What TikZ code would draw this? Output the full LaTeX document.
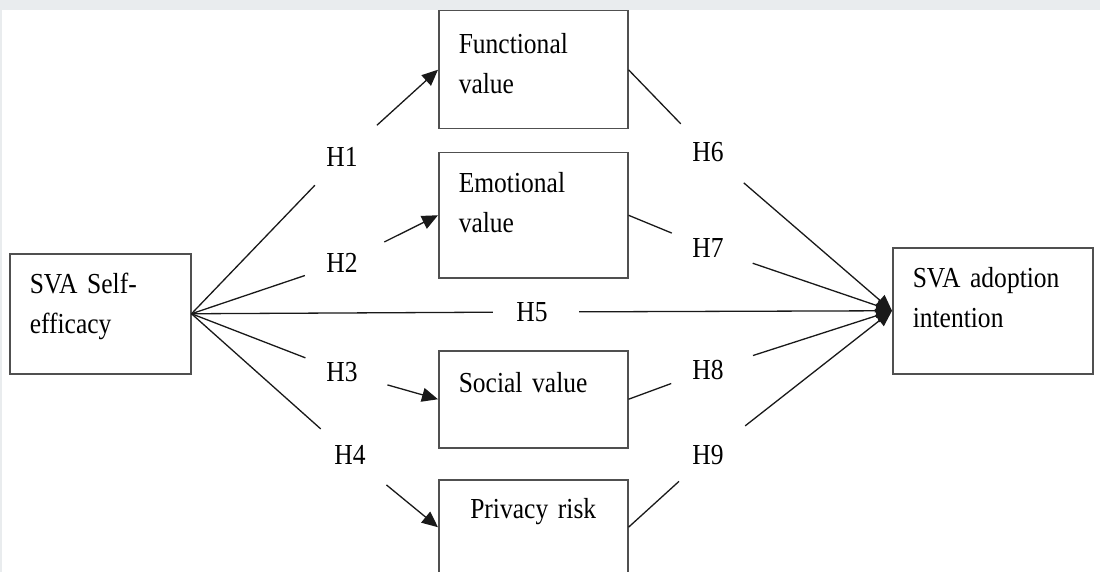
\documentclass[tikz,border=0pt]{standalone}
\usepackage{fontspec}
\setmainfont{Liberation Serif}[FakeStretch=0.88, WordSpace=0.75]
\usetikzlibrary{arrows.meta}
\definecolor{bandgray}{RGB}{233,236,238}
\definecolor{boxgray}{RGB}{80,80,80}

\begin{document}
\begin{tikzpicture}[x=1pt, y=-1pt,
  font=\fontsize{29}{40}\selectfont,
  varbox/.style={draw=boxgray, line width=1.5pt, anchor=north west, align=left,
    inner xsep=20pt, inner ysep=0pt, text height=19pt},
  hyp/.style={circle, inner sep=0pt, minimum size=78pt},
  link/.style={draw=black!90, line width=1.3pt},
  tip/.style={link, -{Triangle[length=16pt,width=14pt]}, shorten <=8pt}]
\useasboundingbox (0,0) rectangle (1100,572);
\fill[white] (0,0) rectangle (1100,572);
% scan frame
\fill[bandgray] (0,0) rectangle (1100,10);
\fill[bandgray] (0,0) rectangle (2,572);

% constructs
\node[varbox, text width=141pt, minimum height=120pt, text depth=59pt] (self) at (9,253) {SVA Self-\\efficacy};
\node[varbox, text width=149pt, minimum height=118pt, text depth=51pt] (func) at (438,10) {Functional\\value};
\node[varbox, text width=149pt, minimum height=125pt, text depth=64pt] (emo) at (438,152) {Emotional\\value};
\node[varbox, text width=149pt, minimum height=97pt, text depth=32pt] (soc) at (438,350) {Social value};
\node[varbox, text width=149pt, align=center, minimum height=95pt, text depth=36pt] (priv) at (438,479) {Privacy risk};
\node[varbox, text width=160pt, minimum height=126pt, text depth=65pt] (adopt) at (892,247) {SVA adoption\\intention};

% hypotheses
\foreach \n/\x/\y in {1/342/157, 2/342/263, 3/342/372, 4/350/455, 5/532/312,
                      6/708/152, 7/708/248, 8/708/370, 9/708/455}
  \node[hyp] (h\n) at (\x,\y) {H\n};

\foreach \n/\a/\b in {1/self/func, 2/self/emo, 3/self/soc, 4/self/priv, 5/self/adopt,
                      6/func/adopt, 7/emo/adopt, 8/soc/adopt, 9/priv/adopt} {
  \path[link] (\a.east) -- (h\n);
  \path[tip] (h\n) -- (\b.west);
}
\end{tikzpicture}
\end{document}
